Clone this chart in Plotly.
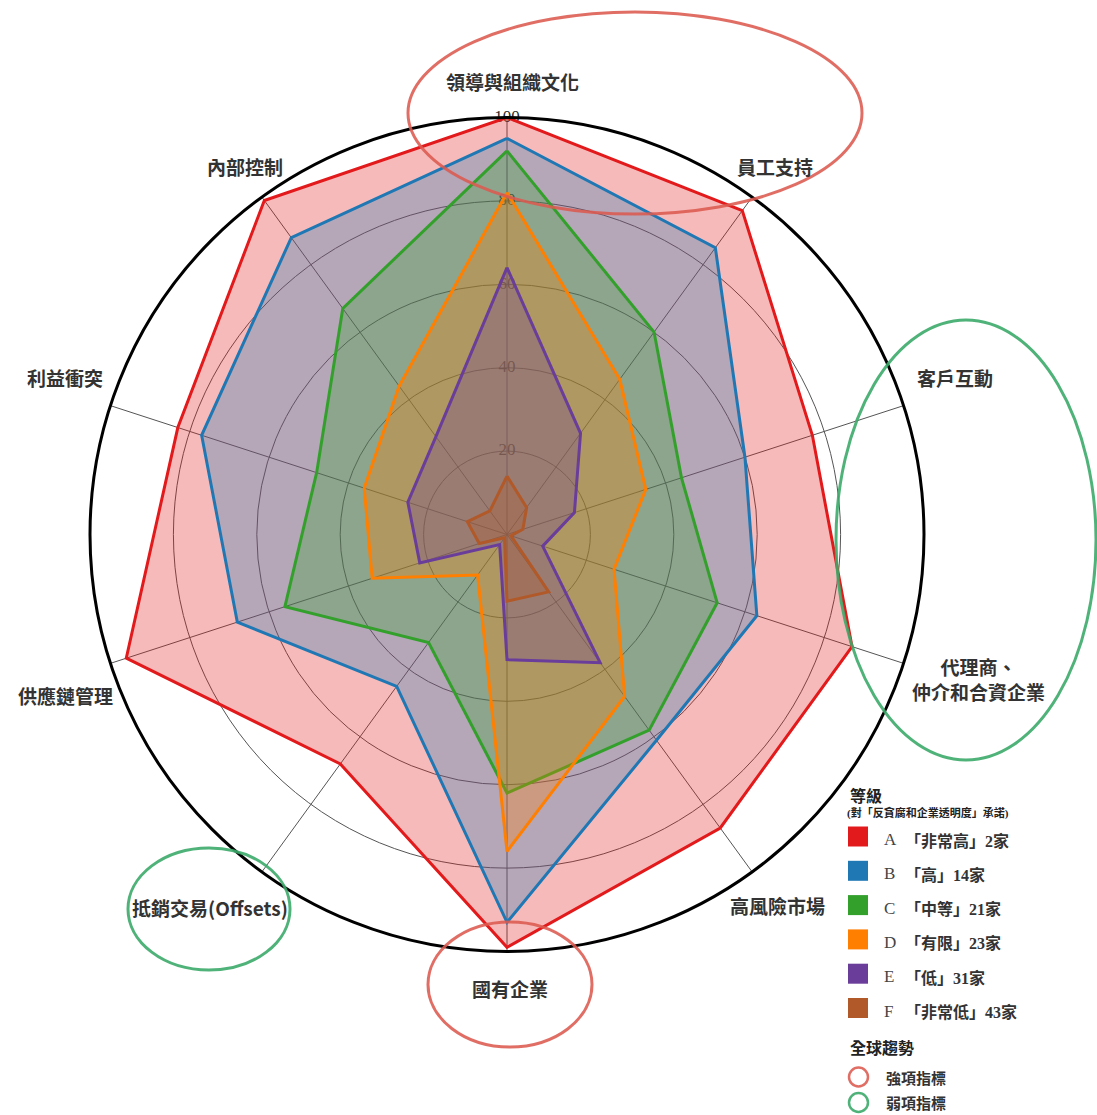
import plotly.graph_objects as go

# ---------------- data ----------------
categories = ["領導與組織文化", "員工支持", "客戶互動", "代理商、仲介和合資企業", "高風險市場",
              "國有企業", "抵銷交易(Offsets)", "供應鏈管理", "利益衝突", "內部控制"]
grade_a = [100, 96, 77, 87, 87, 99, 68, 96, 83, 99]
grade_b = [95, 85, 60, 63, 61, 93, 45, 68, 77, 88]
grade_c = [92, 60, 44, 53, 58, 62, 32, 56, 48, 67]
grade_d = [82, 46, 35, 27, 48, 76, 12, 34, 36, 44]
grade_e = [64, 30, 17, 9, 38, 30, 3, 22, 25, 29]
grade_f = [14, 8, 4, 1, 17, 16, 1, 7, 10, 7]
grade_letters = ["A", "B", "C", "D", "E", "F"]
grade_labels = ["「非常高」2家", "「高」14家", "「中等」21家", "「有限」23家", "「低」31家", "「非常低」43家"]
radial_ticks = [20, 40, 60, 80, 100]
legend_title = "等級"
legend_subtitle = "(對「反貪腐和企業透明度」承諾)"
trend_title = "全球趨勢"
trend_labels = ["強項指標", "弱項指標"]

# ---------------- style ----------------
W, H = 1097, 1115
colors = ["#e31a1c", "#1f78b4", "#33a02c", "#ff7f00", "#6a3d9a", "#b15928"]
red_mark = "rgba(220,90,80,0.88)"
green_mark = "rgba(60,170,105,0.9)"
FONT = "Liberation Serif, Noto Sans CJK TC, serif"
CJK = "Noto Sans CJK TC, sans-serif"


def px(x):
    return x / W


def py(y):
    return 1 - y / H


def rgba(hexc, a):
    h = hexc.lstrip("#")
    r, g, b = int(h[0:2], 16), int(h[2:4], 16), int(h[4:6], 16)
    return f"rgba({r},{g},{b},{a})"


series = [grade_a, grade_b, grade_c, grade_d, grade_e, grade_f]

fig = go.Figure()

# radial tick labels (drawn beneath the areas)
fig.add_trace(go.Scatterpolar(
    r=radial_ticks, theta=[categories[0]] * len(radial_ticks),
    mode="text", text=[str(t) for t in radial_ticks],
    textposition="middle center",
    textfont=dict(family=FONT, size=17, color="#2a2a2a"),
    showlegend=False, hoverinfo="skip"))

for vals, col, letter, lab in zip(series, colors, grade_letters, grade_labels):
    fig.add_trace(go.Scatterpolar(
        r=vals + vals[:1], theta=categories + categories[:1],
        mode="lines", fill="toself",
        line=dict(color=col, width=3),
        fillcolor=rgba(col, 0.3),
        name=f"{letter} {lab}", showlegend=False))

# centre (507, 534.5) radius 417 px
cx, cy, R = 507, 534.5, 417
fig.update_layout(
    width=W, height=H,
    margin=dict(l=0, r=0, t=0, b=0),
    paper_bgcolor="white",
    showlegend=False,
    polar=dict(
        domain=dict(x=[px(cx - R), px(cx + R)], y=[py(cy + R), py(cy - R)]),
        bgcolor="rgba(0,0,0,0)",
        angularaxis=dict(
            type="category", categoryarray=categories,
            rotation=90, direction="clockwise",
            showline=True, linecolor="black", linewidth=3,
            showgrid=True, gridcolor="#555555", gridwidth=1,
            showticklabels=False, ticks="",
        ),
        radialaxis=dict(
            range=[0, 100], tickvals=radial_ticks,
            showticklabels=False, ticks="", showline=False,
            showgrid=True, gridcolor="#555555", gridwidth=1,
        ),
    ),
)

# ---------------- category labels ----------------
cat_pos = [(512, 82), (775, 167), (955, 377), (978, 679), (777, 905),
           (510, 988), (210, 907), (65, 695), (65, 377), (245, 167)]
annotations = []
for cat, (x, y) in zip(categories, cat_pos):
    txt = cat.replace("、", "、<br>")
    annotations.append(dict(
        x=px(x), y=py(y), xref="paper", yref="paper", text=txt, showarrow=False,
        xanchor="center", yanchor="middle", align="center",
        font=dict(family=CJK, size=19, color="#333333", weight="bold")))

# ---------------- legend ----------------
annotations.append(dict(x=px(848), y=py(795), xref="paper", yref="paper", text=legend_title,
                        showarrow=False, xanchor="left", yanchor="middle",
                        font=dict(family=CJK, size=16, color="#222222", weight="bold")))
annotations.append(dict(x=px(845), y=py(813), xref="paper", yref="paper", text=legend_subtitle,
                        showarrow=False, xanchor="left", yanchor="middle",
                        font=dict(family=FONT, size=11, color="#222222", weight="bold")))
shapes = []
for i, (col, letter, lab) in enumerate(zip(colors, grade_letters, grade_labels)):
    yc = 836.5 + i * 34.3
    shapes.append(dict(type="rect", xref="paper", yref="paper",
                       x0=px(848), x1=px(868), y0=py(yc - 10), y1=py(yc + 10),
                       fillcolor=col, line=dict(width=0)))
    annotations.append(dict(x=px(882), y=py(yc + 3), xref="paper", yref="paper", text=letter,
                            showarrow=False, xanchor="left", yanchor="middle",
                            font=dict(family=FONT, size=17, color="#444444")))
    annotations.append(dict(x=px(903), y=py(yc + 4), xref="paper", yref="paper", text=lab,
                            showarrow=False, xanchor="left", yanchor="middle",
                            font=dict(family=FONT, size=16, color="#333333", weight="bold")))

annotations.append(dict(x=px(848), y=py(1047), xref="paper", yref="paper", text=trend_title,
                        showarrow=False, xanchor="left", yanchor="middle",
                        font=dict(family=CJK, size=16, color="#222222", weight="bold")))
for i, (lab, col) in enumerate(zip(trend_labels, [red_mark, green_mark])):
    yc = 1077 + i * 25.5
    shapes.append(dict(type="circle", xref="paper", yref="paper",
                       x0=px(849), x1=px(868), y0=py(yc + 9.5), y1=py(yc - 9.5),
                       line=dict(color=col, width=2.5)))
    annotations.append(dict(x=px(884), y=py(yc), xref="paper", yref="paper", text=lab,
                            showarrow=False, xanchor="left", yanchor="middle",
                            font=dict(family=CJK, size=15, color="#333333", weight="bold")))

# ---------------- highlight ellipses ----------------
ellipses = [((408, 12, 862, 214), red_mark), ((836, 320, 1096, 760), green_mark),
            ((128, 848, 290, 970), green_mark), ((428, 922, 592, 1047), red_mark)]
for (x0, y0, x1, y1), col in ellipses:
    shapes.append(dict(type="circle", xref="paper", yref="paper", layer="above",
                       x0=px(x0), x1=px(x1), y0=py(y1), y1=py(y0),
                       line=dict(color=col, width=3)))

fig.update_layout(annotations=annotations, shapes=shapes)

fig.write_html("out.html", config={"displayModeBar": False},
               post_script="document.body.style.margin='0';document.body.style.overflow='hidden';")
